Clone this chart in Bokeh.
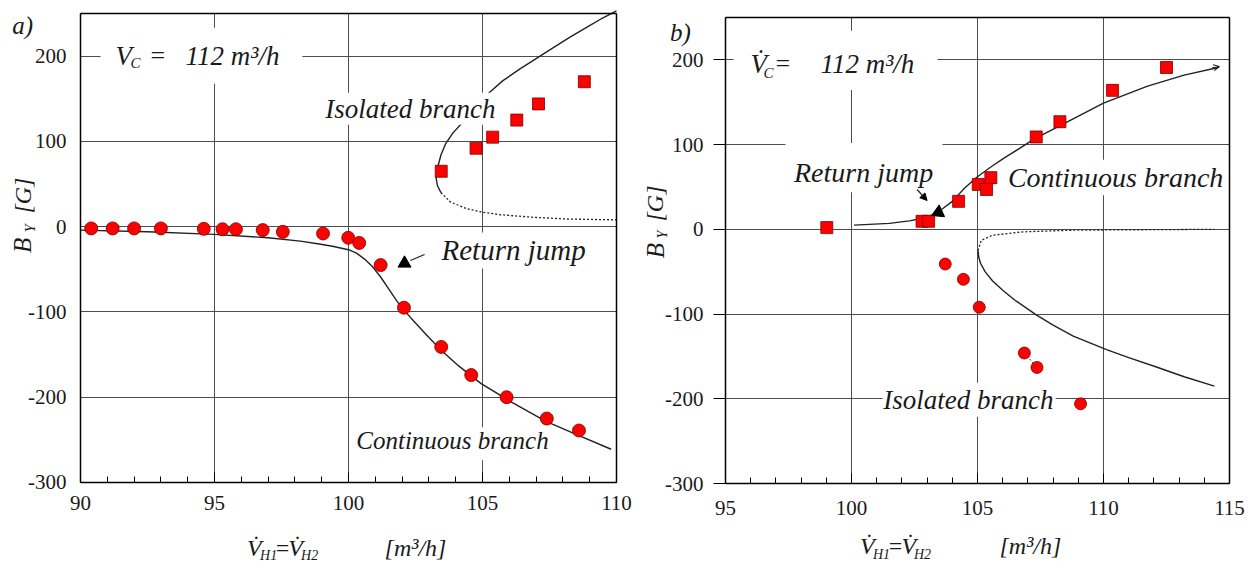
from bokeh.plotting import figure
from bokeh.layouts import row
from bokeh.models import (Label, FixedTicker, BoxAnnotation, Arrow, NormalHead, OpenHead,
                          LinearAxis, Grid, Range1d, PrintfTickFormatter)
from bokeh.embed import file_html
from bokeh.resources import INLINE

SERIF = "Liberation Serif"
TXT = "#1a1a1a"
GRID = "#4d4d4d"
RED = "#ff0000"
EDGE = "#7a0000"

# ---------------- panel a) data ----------------
a_cont_meas_x = [90.4, 91.2, 92.0, 93.0, 94.6, 95.3, 95.8, 96.8, 97.55, 99.05, 99.99,
                 100.4, 101.2, 102.07, 103.46, 104.58, 105.9, 107.4, 108.6]
a_cont_meas_y = [-2, -2, -2, -2, -2.5, -3, -3, -4, -6, -8, -13,
                 -19, -45, -95, -141, -174, -200, -225, -239]
a_iso_meas_x = [103.46, 104.76, 105.38, 106.28, 107.09, 108.8]
a_iso_meas_y = [65, 92, 105, 125, 144, 170]
a_jump_x = [102.09]
a_jump_y = [-43]

a_cont_x = [90.0, 92.5, 95.0, 97.0, 98.2, 98.85, 99.4, 100.0, 100.3, 100.6, 100.9, 101.2,
            101.5, 101.8, 102.1, 102.5, 103.0, 103.5, 104.1, 104.95, 106.1, 107.35, 108.45, 109.8]
a_cont_y = [-4, -6, -9, -13, -17, -20, -23, -27, -31, -38, -47, -59,
            -73, -87, -99, -113, -130, -146, -163, -184, -206, -228, -243, -261]
a_iso_stable_x = [103.45, 103.32, 103.27, 103.33, 103.45, 103.62, 103.9, 104.22, 104.7,
                  105.25, 105.75, 106.4, 107.0, 107.6, 108.25, 108.9, 109.5, 110.0]
a_iso_stable_y = [40, 48, 57, 70, 84, 97, 110, 121, 138,
                  157, 171, 185, 197, 209, 222, 234, 245, 253]
a_iso_unstable_x = [103.45, 103.8, 104.42, 105.0, 105.67, 106.9, 108.15, 110.0]
a_iso_unstable_y = [40, 29, 21, 17, 14, 11, 9, 8]

# ---------------- panel b) data ----------------
b_cont_meas_x = [99.02, 102.8, 103.06, 104.25, 105.03, 105.36, 105.53, 107.33, 108.27, 110.36, 112.5]
b_cont_meas_y = [2, 9.5, 9.5, 33, 53, 47, 61, 109, 127, 164, 191]
b_iso_meas_x = [103.72, 104.44, 105.07, 106.86, 107.36, 109.09]
b_iso_meas_y = [-41, -59, -92, -146, -163, -206]
b_jump_x = [103.45]
b_jump_y = [20]

b_cont_x = [100.1, 101.5, 102.3, 102.8, 103.2, 103.6, 104.0, 104.5, 105.0, 105.5, 106.05,
            107.28, 108.7, 110.0, 111.75, 113.2, 114.55]
b_cont_y = [5, 7, 10, 13, 17, 24, 33, 49, 62, 73, 84,
            107, 129, 149, 169, 182, 191]
b_iso_unstable_x = [105.02, 105.15, 105.6, 106.8, 108.8, 114.4]
b_iso_unstable_y = [-25, -13, -7, -3, -1, 0]
b_iso_stable_x = [105.02, 105.05, 105.12, 105.3, 105.6, 106.0, 106.5, 107.33, 108.0, 108.8,
                  110.12, 111.0, 112.1, 113.2, 114.4]
b_iso_stable_y = [-25, -33, -40, -50, -61, -72, -84, -101, -113, -126,
                  -142, -151.5, -162.5, -174, -185]

y_ticks = [-300, -200, -100, 0, 100, 200]
a_x_ticks = [90, 95, 100, 105, 110]
b_x_ticks = [95, 100, 105, 110, 115]


def make_fig(width, xview, yview, xlim, x_ticks, ytick_out, ystand, xstand):
    p = figure(width=width, height=568, x_range=Range1d(*xview), y_range=Range1d(*yview),
               output_backend="svg", toolbar_location=None,
               x_axis_location=None, y_axis_location=None, min_border=0,
               background_fill_color="white", border_fill_color="white")
    p.outline_line_color = None
    p.center = [r for r in p.center if not isinstance(r, Grid)]

    ylim = (-300, 250)
    fmt = PrintfTickFormatter(format="%d")
    xax = LinearAxis(fixed_location=ylim[0], bounds=xlim, formatter=fmt,
                     ticker=FixedTicker(ticks=x_ticks, minor_ticks=list(range(xlim[0], xlim[1] + 1))))
    yax = LinearAxis(fixed_location=xlim[0], bounds=ylim, formatter=fmt,
                     ticker=FixedTicker(ticks=y_ticks, minor_ticks=[]))
    top = LinearAxis(fixed_location=ylim[1], bounds=xlim, ticker=FixedTicker(ticks=[], minor_ticks=[]))
    right = LinearAxis(fixed_location=xlim[1], bounds=ylim, ticker=FixedTicker(ticks=[], minor_ticks=[]))
    for ax in (xax, yax, top, right):
        ax.axis_line_color = "black"
        ax.axis_line_width = 1.5
        ax.major_label_text_font = SERIF
        ax.major_label_text_font_size = "21px"
        ax.major_label_text_color = TXT
        ax.major_tick_line_color = "black"
        ax.minor_tick_line_color = "black"
        ax.major_tick_in = 0
        ax.major_tick_out = 0
        ax.minor_tick_in = 0
        ax.minor_tick_out = 0
    xax.major_tick_in = 10
    xax.minor_tick_in = 6
    xax.major_label_standoff = xstand
    yax.major_tick_out = ytick_out
    yax.major_label_standoff = ystand
    p.add_layout(xax, "below")
    p.add_layout(yax, "left")
    p.add_layout(top, "above")
    p.add_layout(right, "right")

    p.add_layout(Grid(dimension=0, ticker=FixedTicker(ticks=x_ticks), cross_bounds=ylim,
                      grid_line_color=GRID, grid_line_width=1), "center")
    p.add_layout(Grid(dimension=1, ticker=FixedTicker(ticks=y_ticks), cross_bounds=xlim,
                      grid_line_color=GRID, grid_line_width=1), "center")
    return p


def label(p, x, y, text, size, style="italic", align="center", angle=0):
    p.add_layout(Label(x=x, y=y, text=text, text_font=SERIF, text_font_size=f"{size}px",
                       text_font_style=style, text_align=align, text_baseline="middle",
                       angle=angle, text_color=TXT))


def mask(p, left, right, bottom, top):
    p.add_layout(BoxAnnotation(left=left, right=right, bottom=bottom, top=top,
                               fill_color="white", fill_alpha=1, line_color=None))


def axis_titles(p, vx, h1x, eqx, v2x, h2x, unitx, yc, ys, bx, by, yx, yy, gx, gy):
    label(p, vx, yc, "V\u0307", 24)
    label(p, h1x, ys, "H1", 14)
    label(p, eqx, yc, "=", 24, style="normal")
    label(p, v2x, yc, "V\u0307", 24)
    label(p, h2x, ys, "H2", 14)
    label(p, unitx, yc, "[m\u00b3/h]", 24)
    label(p, bx, by, "B", 25, angle=1.5708)
    label(p, yx, yy, "Y", 14, angle=1.5708)
    label(p, gx, gy, "[G]", 24, angle=1.5708)


def flow_rate_note(p, vtext, vx, cx, eqx, numx, yc, ys):
    label(p, vx, yc, vtext, 27, align="left")
    label(p, cx, ys, "C", 15, align="left")
    label(p, eqx, yc, "=", 26, style="normal", align="left")
    label(p, numx, yc, "112 m\u00b3/h", 27, align="left")


# ================= panel a) =================
pa = make_fig(640, (87.015, 110.896), (-400.86, 265.25), (90, 110), a_x_ticks, 0, 14, 14)

pa.line(a_cont_x, a_cont_y, line_color="#222222", line_width=1.4)
pa.line(a_iso_stable_x, a_iso_stable_y, line_color="#222222", line_width=1.4)
pa.line(a_iso_unstable_x, a_iso_unstable_y, line_color="#222222", line_width=1.3, line_dash="2 2")
pa.scatter(a_cont_meas_x, a_cont_meas_y, marker="circle", size=13,
           fill_color=RED, line_color=EDGE, line_width=0.8)
pa.scatter(a_iso_meas_x, a_iso_meas_y, marker="square", size=12,
           fill_color=RED, line_color=EDGE, line_width=0.8)
pa.scatter(a_jump_x, a_jump_y, marker="triangle", size=13, fill_color="black", line_color="black")
pa.segment(x0=[102.31], y0=[-39.6], x1=[102.84], y1=[-32.6], line_color="#222222", line_width=1.2)

mask(pa, 90.75, 98.28, 167.7, 233.2)
mask(pa, 98.96, 105.67, 119.6, 157.1)
mask(pa, 102.99, 109.29, -49.0, -6.8)
mask(pa, 100.34, 107.46, -273.8, -235.1)

label(pa, 87.84, 235.6, "a)", 25)
flow_rate_note(pa, "V", 91.31, 91.87, 92.61, 93.92, 200.7, 191.4)
label(pa, 102.31, 138.4, "Isolated branch", 27)
label(pa, 106.16, -27.9, "Return jump", 29)
label(pa, 103.88, -250.6, "Continuous branch", 25)
axis_titles(pa, 96.49, 97.02, 97.54, 98.03, 98.55, 102.5, -376.8, -386.1,
            87.84, -22.0, 88.12, -2.0, 87.84, 36.5)

# ================= panel b) =================
pb = make_fig(613, (91.627, 115.952), (-400.32, 270.06), (95, 115), b_x_ticks, 12, 10, 17)

pb.line(b_cont_x, b_cont_y, line_color="#222222", line_width=1.4)
pb.line(b_iso_stable_x, b_iso_stable_y, line_color="#222222", line_width=1.4)
pb.line(b_iso_unstable_x, b_iso_unstable_y, line_color="#222222", line_width=1.3, line_dash="2 2")
pb.line(b_iso_meas_x[3:5], b_iso_meas_y[3:5], line_color="#333333", line_width=1, line_dash="2 2")
pb.add_layout(Arrow(x_start=114.3, y_start=190.3, x_end=114.6, y_end=192.2,
                    line_color="#222222", line_width=1.2,
                    end=OpenHead(size=6, line_color="#222222", line_width=1.2)))
pb.scatter(b_cont_meas_x, b_cont_meas_y, marker="square", size=12,
           fill_color=RED, line_color=EDGE, line_width=0.8)
pb.scatter(b_iso_meas_x, b_iso_meas_y, marker="circle", size=12,
           fill_color=RED, line_color=EDGE, line_width=0.8)
pb.scatter(b_jump_x, b_jump_y, marker="triangle", size=13, angle=2.0,
           fill_color="black", line_color="black")

mask(pb, 95.32, 103.41, 164.5, 234.3)
mask(pb, 97.38, 103.61, 43.8, 101.8)
mask(pb, 106.15, 114.88, 40.2, 82.0)
mask(pb, 101.23, 108.1, -221.3, -181.0)

pb.add_layout(Arrow(x_start=102.6, y_start=47, x_end=103.0, y_end=34,
                    line_color="#222222", line_width=1.2,
                    end=NormalHead(size=7, fill_color="black", line_color="black")))

label(pb, 93.21, 232.0, "b)", 25)
flow_rate_note(pb, "V\u0307", 95.99, 96.51, 96.98, 98.77, 195.7, 185.0)
label(pb, 100.48, 67.5, "Return jump", 28)
label(pb, 110.48, 61.5, "Continuous branch", 28)
label(pb, 104.64, -201.0, "Isolated branch", 27)
axis_titles(pb, 100.63, 101.19, 101.75, 102.27, 102.82, 107.1, -374.0, -383.4,
            92.22, -25.0, 92.5, -6.1, 92.22, 30.5)

layout = row(pa, pb)
open("out.html", "w").write(file_html(layout, INLINE))
